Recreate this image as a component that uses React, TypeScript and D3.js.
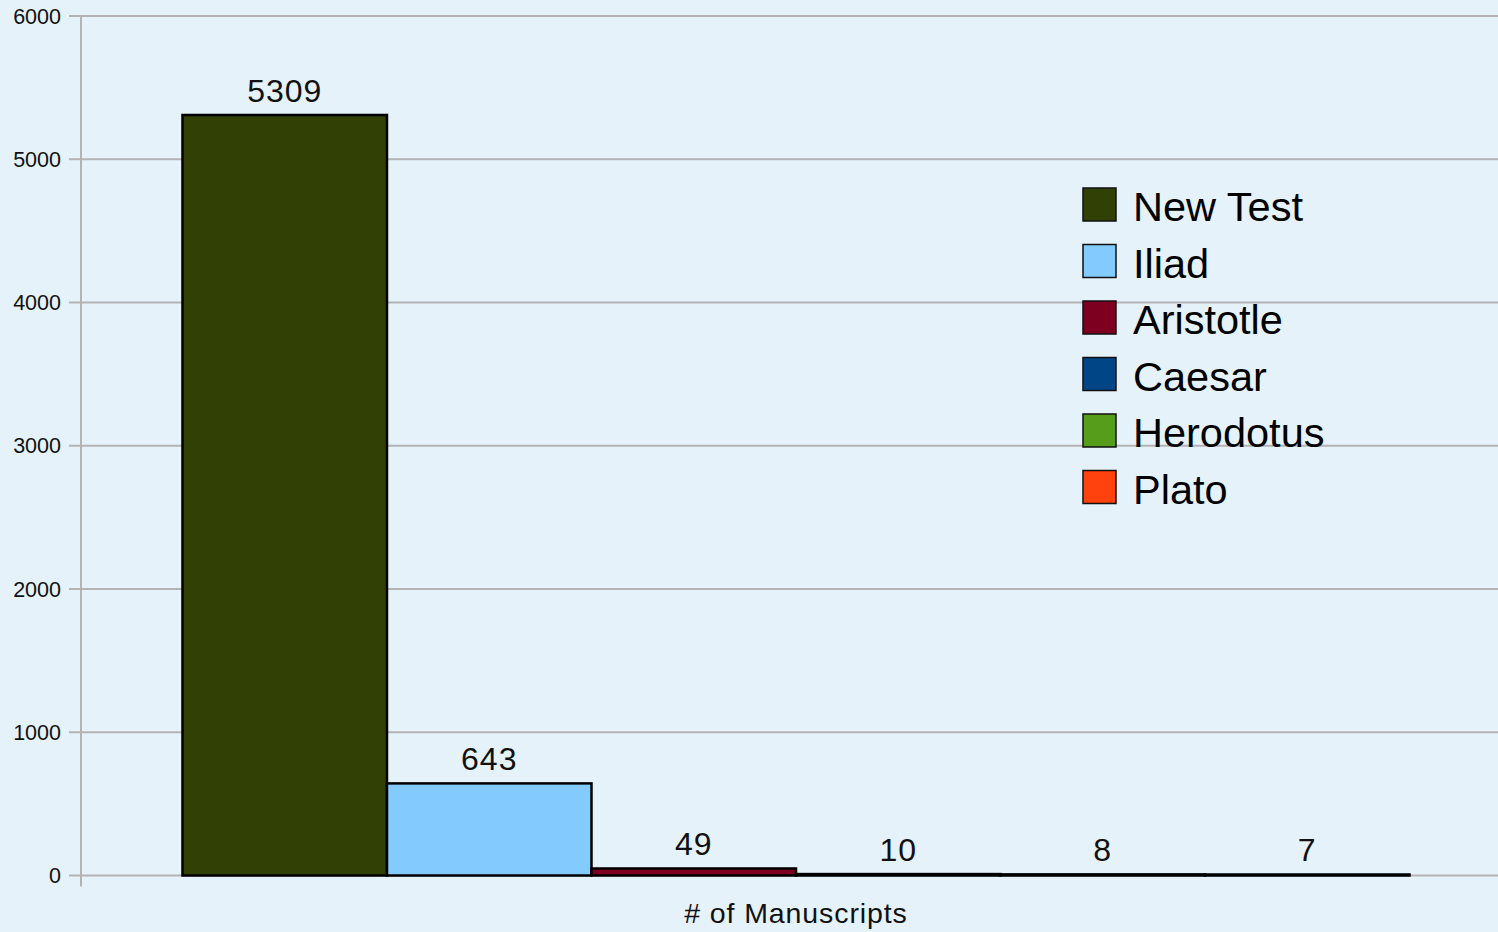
import { useEffect, useRef } from "react";
import * as d3 from "d3";

const category = "# of Manuscripts";
const seriesNames = ["New Test", "Iliad", "Aristotle", "Caesar", "Herodotus", "Plato"];
const seriesValues = [5309, 643, 49, 10, 8, 7];
const seriesColors = ["#314004", "#83caff", "#7e0021", "#004586", "#579d1c", "#ff420e"];
const yTicks = [0, 1000, 2000, 3000, 4000, 5000, 6000];

const width = 1498;
const height = 932;
const font = "'Liberation Sans', Arial, sans-serif";

const App = () => {
  const ref = useRef<SVGSVGElement | null>(null);

  useEffect(() => {
    document.body.style.margin = "0";
    if (!ref.current) return;

    const svg = d3.select(ref.current);
    svg.selectAll("*").remove();

    svg.append("rect").attr("width", width).attr("height", height).attr("fill", "#e6f2f9");

    const plotLeft = 81;
    const plotRight = 1511;

    const y = d3.scaleLinear().domain([0, 6000]).range([875.5, 16]);

    const x0 = d3.scaleBand<string>().domain([category]).range([plotLeft, plotRight]).paddingInner(0).paddingOuter(0.0827);
    const x1 = d3.scaleBand<string>().domain(seriesNames).range([0, x0.bandwidth()]).padding(0);

    // grid + ticks
    const grid = svg.append("g");
    grid
      .selectAll("line")
      .data(yTicks)
      .enter()
      .append("line")
      .attr("x1", plotLeft - 12)
      .attr("x2", width)
      .attr("y1", d => y(d))
      .attr("y2", d => y(d))
      .attr("stroke", "#b3b3b3")
      .attr("stroke-width", 2);

    grid
      .selectAll("text")
      .data(yTicks)
      .enter()
      .append("text")
      .attr("x", 61)
      .attr("y", d => y(d))
      .attr("dy", "0.36em")
      .attr("text-anchor", "end")
      .attr("font-family", font)
      .attr("font-size", 21.5)
      .attr("fill", "#111")
      .text(d => d);

    svg
      .append("line")
      .attr("x1", plotLeft)
      .attr("x2", plotLeft)
      .attr("y1", y(6000))
      .attr("y2", y(0) + 11)
      .attr("stroke", "#b3b3b3")
      .attr("stroke-width", 2);

    // bars
    const data = seriesNames.map((name, i) => ({ name, value: seriesValues[i], color: seriesColors[i] }));
    const g = svg.append("g").attr("transform", `translate(${x0(category)},0)`);

    g.selectAll("rect")
      .data(data)
      .enter()
      .append("rect")
      .attr("x", d => x1(d.name)!)
      .attr("y", d => y(d.value))
      .attr("width", x1.bandwidth())
      .attr("height", d => y(0) - y(d.value))
      .attr("fill", d => d.color)
      .attr("stroke", "#000")
      .attr("stroke-width", 2.5);

    g.selectAll("text")
      .data(data)
      .enter()
      .append("text")
      .attr("x", d => x1(d.name)! + x1.bandwidth() / 2)
      .attr("y", d => y(d.value) - 13)
      .attr("text-anchor", "middle")
      .attr("font-family", font)
      .attr("font-size", 32)
      .attr("letter-spacing", 1)
      .attr("fill", "#111")
      .text(d => d.value);

    // x axis title
    svg
      .append("text")
      .attr("x", x0(category)! + x0.bandwidth() / 2)
      .attr("y", 923)
      .attr("text-anchor", "middle")
      .attr("font-family", font)
      .attr("font-size", 28.5)
      .attr("letter-spacing", 0.9)
      .attr("fill", "#111")
      .text(category);

    // legend
    const legend = svg.append("g").attr("transform", "translate(1083,188)");
    const rows = legend
      .selectAll("g")
      .data(data)
      .enter()
      .append("g")
      .attr("transform", (_d, i) => `translate(0,${i * 56.5})`);

    rows
      .append("rect")
      .attr("width", 33)
      .attr("height", 33)
      .attr("fill", d => d.color)
      .attr("stroke", "#111")
      .attr("stroke-width", 1.5);

    rows
      .append("text")
      .attr("x", 50)
      .attr("y", 33)
      .attr("font-family", font)
      .attr("font-size", 41.5)
      .attr("fill", "#000")
      .text(d => d.name);
  }, []);

  return <svg ref={ref} width={width} height={height} style={{ display: "block" }} />;
};

export default App;
